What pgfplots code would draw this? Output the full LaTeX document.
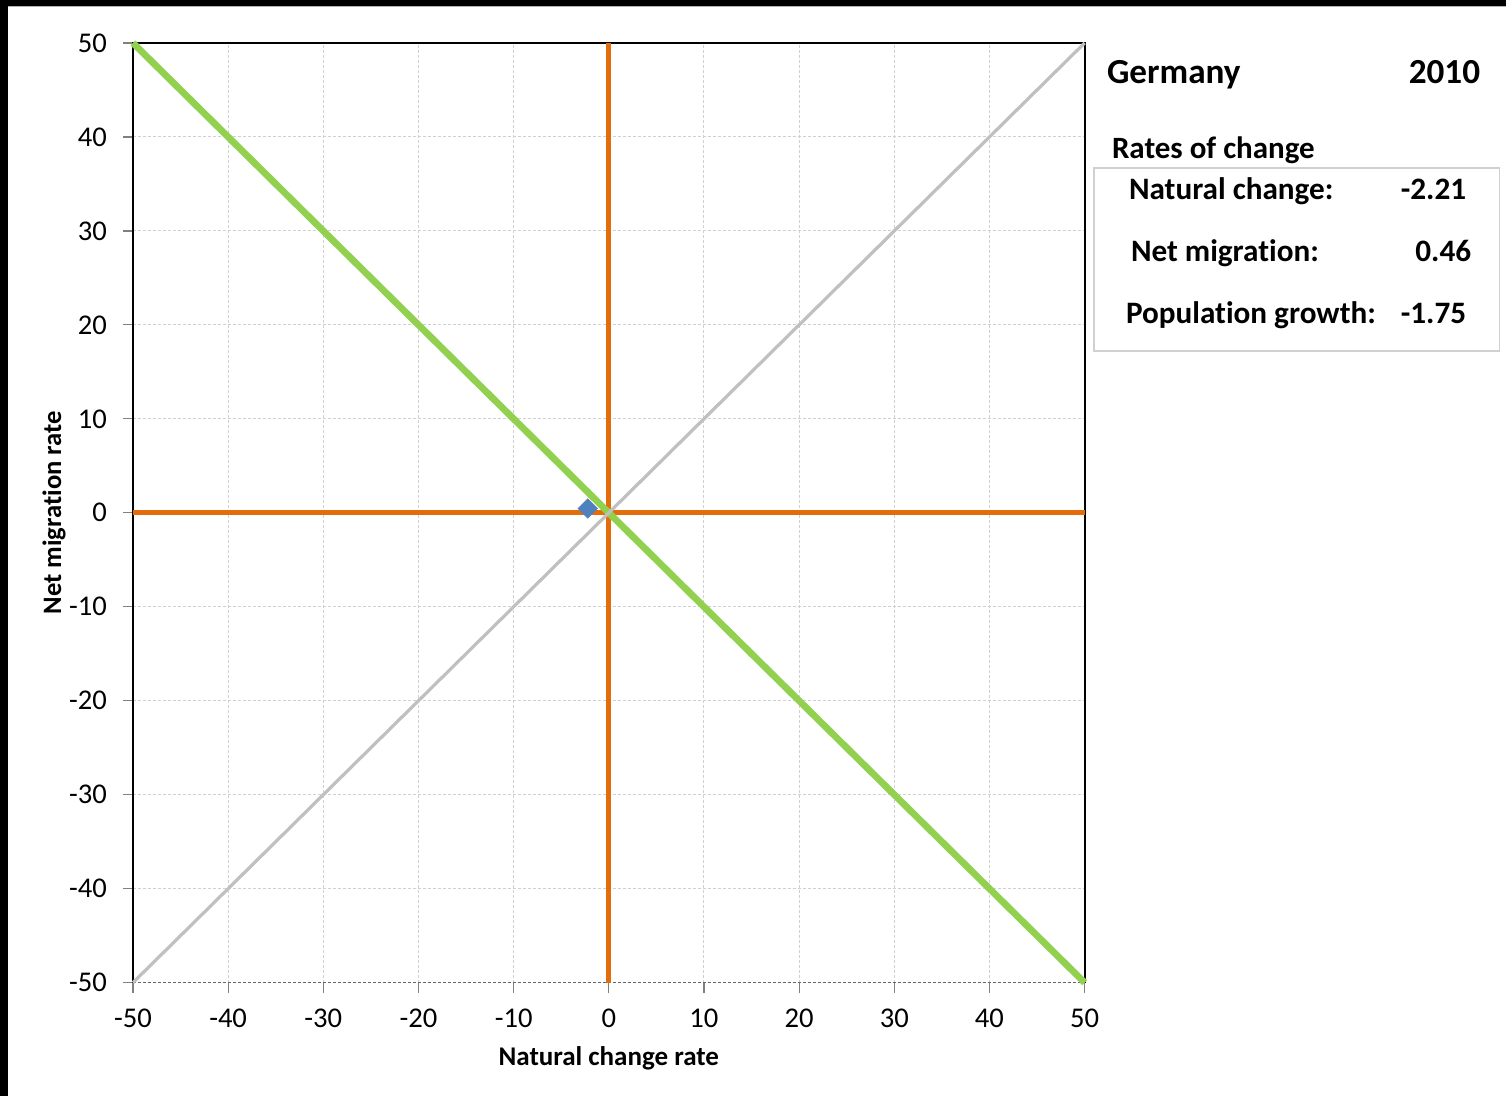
\documentclass[border=0pt]{standalone}
\usepackage{pgfplots}
\pgfplotsset{compat=1.18}
\usepackage{fontspec}
\setmainfont{Carlito}[Ligatures=NoCommon]
\definecolor{orangeL}{HTML}{E46C0A}
\definecolor{greenL}{HTML}{92D050}
\definecolor{grayL}{HTML}{C0C0C0}
\definecolor{gridC}{HTML}{D0D0D0}
\definecolor{ptC}{HTML}{4F81BD}
\begin{document}
\begin{tikzpicture}
\fill[black] (0,0) rectangle (753pt,548pt);
\fill[white] (4pt,0) rectangle (753pt,545pt);
\draw[gray!60, line width=0.5pt] (4pt,544.75pt) -- (753pt,544.75pt);
\useasboundingbox (0,0) rectangle (753pt,548pt);
\begin{axis}[
  at={(66.5pt,56.5pt)}, anchor=south west,
  scale only axis, width=476pt, height=470pt,
  xmin=-50, xmax=50, ymin=-50, ymax=50,
  xtick={-50,-40,...,50}, ytick={-50,-40,...,50},
  grid=major,
  major grid style={gridC, line width=0.5pt, dash pattern=on 1.5pt off 1pt},
  axis line style={draw=none},
  tick align=outside, major tick length=5pt,
  tick style={gray, line width=0.6pt},
  xtick pos=bottom, ytick pos=left,
  /pgf/number format/assume math mode=true,
  ticklabel style={font=\fontsize{14.3}{16}\selectfont},
  xticklabel style={anchor=center, yshift=-13pt},
  yticklabel style={anchor=east, xshift=-4.5pt},
  xlabel={Natural change rate}, ylabel={Net migration rate},
  xlabel style={font=\fontsize{13.5}{16}\selectfont\bfseries, at={(axis description cs:0.5,-0.081)}, anchor=center},
  ylabel style={font=\fontsize{13.3}{16}\selectfont\bfseries, at={(axis description cs:-0.083,0.5)}, anchor=center, rotate=0},
  clip=false,
]
\draw[black, line width=1pt] (rel axis cs:0,0) -- (rel axis cs:0,1) -- (rel axis cs:1,1) -- (rel axis cs:1,0);
\draw[gray!80!black, line width=0.8pt, dash pattern=on 1.5pt off 1pt] (rel axis cs:0,0) -- (rel axis cs:1,0);
\addplot[orangeL, line width=2.6pt] coordinates {(-50,0) (50,0)};
\addplot[orangeL, line width=2.6pt] coordinates {(0,-50) (0,50)};
\addplot[greenL, line width=3.4pt] coordinates {(-50,50) (50,-50)};
\addplot[grayL, line width=1.6pt] coordinates {(-50,-50) (50,50)};
\addplot[only marks, mark=square*, mark size=3.4pt, mark options={rotate=45, fill=ptC, draw=ptC}] coordinates {(-2.21,0.46)};
\end{axis}
\node[anchor=base west, inner sep=0pt, font=\fontsize{17.6}{20}\selectfont\bfseries] at (553.5pt,506pt) {Germany};
\node[anchor=base east, inner sep=0pt, font=\fontsize{17.6}{20}\selectfont\bfseries] at (740.5pt,506pt) {2010};
\node[anchor=base west, inner sep=0pt, font=\fontsize{15.5}{18}\selectfont\bfseries] at (556pt,468.8pt) {Rates of change};
\draw[gridC, line width=0.9pt] (547pt,464pt) rectangle (750pt,372.5pt);
\begin{scope}[every node/.style={inner sep=0pt, font=\fontsize{15.6}{18}\selectfont\bfseries}]
\node[anchor=base west] at (564.5pt,448pt) {Natural change:};
\node[anchor=base east] at (733.5pt,448pt) {-2.21};
\node[anchor=base west] at (565.5pt,417pt) {Net migration:};
\node[anchor=base east] at (736pt,417pt) {0.46};
\node[anchor=base west] at (563pt,386.3pt) {Population growth:};
\node[anchor=base east] at (733.5pt,386.3pt) {-1.75};
\end{scope}
\end{tikzpicture}
\end{document}
